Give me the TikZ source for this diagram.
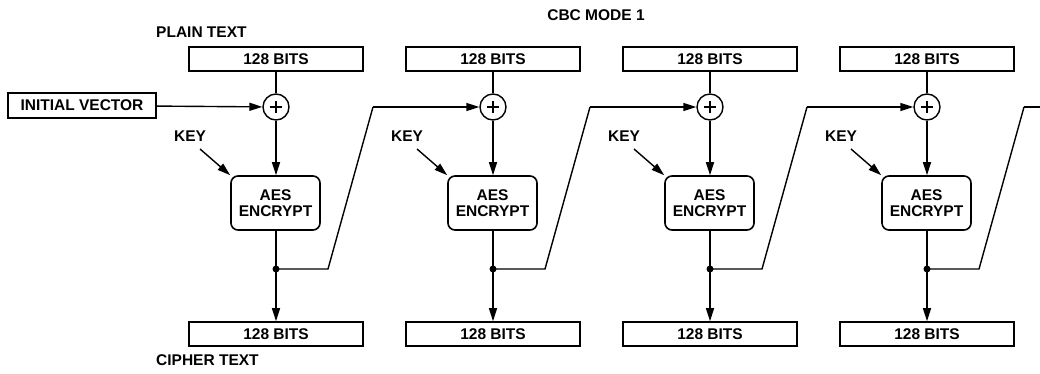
\documentclass[tikz,border=0pt]{standalone}
\usepackage{fontspec}
\setmainfont{Liberation Sans}
\usetikzlibrary{arrows.meta}
\newcommand{\diafont}{\fontsize{15.5}{16.5}\selectfont\bfseries}
\tikzset{
  lbl/.style={font=\diafont, inner sep=0pt},
  bitsbox/.style={draw, line width=1.6pt, minimum width=174pt, minimum height=24pt, inner sep=0pt, font=\diafont},
  aesbox/.style={draw, line width=1.6pt, rounded corners=7pt, minimum width=89pt, minimum height=54pt, inner sep=0pt, align=center, font=\diafont, text depth=0pt},
  xorc/.style={draw, circle, line width=1.4pt, minimum size=26pt, inner sep=0pt},
  junc/.style={fill, circle, minimum size=7pt, inner sep=0pt},
  flow/.style={line width=1.4pt},
}
\begin{document}
\begin{tikzpicture}[x=1pt, y=-1pt, >={Triangle[length=13pt,width=8pt]}]
  \useasboundingbox (0,0) rectangle (1040,373);
  % titles
  \node[lbl] (mode) at (596,15) {CBC MODE 1};
  \node[lbl, anchor=west] (plain) at (156,32) {PLAIN TEXT};
  \node[lbl, anchor=west] (cipher) at (156,360) {CIPHER TEXT};
  \node[bitsbox, minimum width=148pt, minimum height=25pt] (iv) at (82,105.5) {INITIAL VECTOR};
  % stages
  \foreach \i/\x in {1/276, 2/493, 3/710, 4/927} {
    \node[bitsbox] (pt\i) at (\x,59) {128 BITS};
    \node[xorc] (xor\i) at (\x,107) {};
    \draw[line width=1.4pt] ([xshift=-6pt]xor\i.center) -- ([xshift=6pt]xor\i.center)
      ([yshift=-6pt]xor\i.center) -- ([yshift=6pt]xor\i.center);
    \node[aesbox] (aes\i) at (\x-0.5,203) {AES\\[-1pt]ENCRYPT};
    \node[junc] (dot\i) at (\x,269) {};
    \node[bitsbox] (ct\i) at (\x,334) {128 BITS};
    \node[lbl] (key\i) at (\x-86,136) {KEY};
    \coordinate (ks\i) at (\x-76,149);
    \coordinate (bend\i) at (\x+52,269);
    \coordinate (rise\i) at (\x+97,107);
    \draw[flow] (pt\i) -- (xor\i);
    \draw[flow, ->] (xor\i) -- (aes\i.north -| xor\i);
    \draw[flow] (aes\i.south -| dot\i) -- (dot\i.center);
    \draw[flow, ->] (dot\i.center) -- (ct\i);
    \draw[flow, ->] (ks\i) -- (aes\i.north west);
    \draw[flow] (dot\i.center) -- (bend\i) -- (rise\i);
  }
  \draw[flow, ->] (iv) -- (xor1);
  \foreach \i/\j in {1/2, 2/3, 3/4}
    \draw[flow, ->] (rise\i) -- (xor\j);
  \coordinate (edge) at (1040,107);
  \draw[flow] (rise4) -- (edge);
\end{tikzpicture}
\end{document}
